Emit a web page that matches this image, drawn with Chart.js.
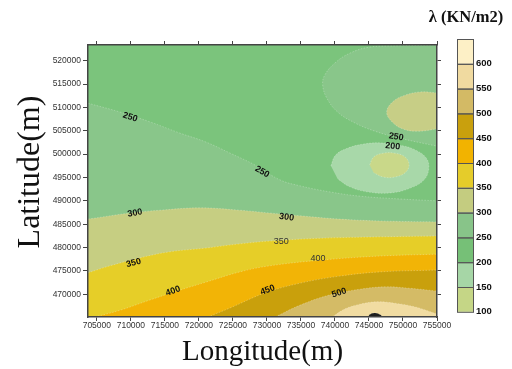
<!DOCTYPE html>
<html>
<head>
<meta charset="utf-8">
<script src="https://cdn.jsdelivr.net/npm/chart.js@4.4.1/dist/chart.umd.min.js"></script>
<style>
  body { margin: 0; background: #fff; }
  #wrap { width: 512px; height: 369px; }
</style>
</head>
<body>
<div id="wrap"><canvas id="map" width="512" height="369"></canvas></div>
<script>
// map extent (m)
const lonMin = 703700, lonMax = 755000;
const latMin = 465150, latMax = 523350;
const lonTicks = [705000, 710000, 715000, 720000, 725000, 730000, 735000, 740000, 745000, 750000, 755000];
const latTicks = [470000, 475000, 480000, 485000, 490000, 495000, 500000, 505000, 510000, 515000, 520000];

// contour lines crossing the whole map, west -> east
const c250X = [703700, 708400, 712800, 717200, 721000, 724600, 728200, 731900, 734900, 739300, 743700, 749600, 755000];
const c250Y = [510900, 509000, 506900, 504500, 502600, 500200, 497700, 494500, 493200, 491900, 491000, 490400, 490000];
const c300X = [703700, 709900, 714300, 720100, 726000, 730400, 734900, 740700, 746600, 755000];
const c300Y = [486100, 487400, 488000, 488500, 488000, 487400, 486800, 486100, 485700, 485500];
const c350X = [703700, 706900, 711300, 715700, 721000, 726000, 730400, 737800, 746600, 755000];
const c350Y = [474600, 476100, 477800, 479100, 479900, 480800, 481400, 482000, 482300, 482500];
const c400X = [704700, 708400, 712800, 717200, 721000, 726000, 730400, 737800, 746600, 755000];
const c400Y = [465150, 466600, 468800, 470900, 472600, 474800, 476100, 477300, 478200, 478600];
const c450X = [721300, 724600, 729700, 734900, 740700, 746600, 755000];
const c450Y = [465150, 467100, 470300, 472400, 473900, 474800, 475200];
const c500X = [731200, 734900, 739300, 743700, 747400, 751000, 755000];
const c500Y = [465150, 467700, 469900, 471100, 471600, 471300, 470700];
const c550X = [739600, 741500, 743700, 746200, 748800, 751800, 755000];
const c550Y = [465150, 466900, 467900, 468400, 468100, 467300, 465800];
const c600X = [744900, 745100, 745900, 746600, 747100];
const c600Y = [465150, 465700, 466000, 465700, 465150];

// closed contours in the north-east
const neOuterX = [755000, 749600, 745100, 742200, 740000, 738500, 738200, 738800, 740400, 742900, 745900, 749600, 755000];
const neOuterY = [523350, 523200, 522900, 521600, 519500, 516900, 514800, 512000, 509000, 506700, 504900, 503400, 501700];
const neInnerX = [755000, 752500, 750300, 748500, 747600, 748400, 750000, 752200, 755000];
const neInnerY = [513100, 513300, 512600, 511200, 509000, 506900, 505400, 504900, 505400];
const eOuterX = [739400, 740100, 741900, 744400, 746900, 749600, 751800, 753400, 753800, 753100, 751000, 748100, 744900, 742200, 740400];
const eOuterY = [497500, 499800, 501300, 502200, 502400, 501900, 500900, 499200, 497000, 494500, 492700, 491700, 491900, 493000, 494700];
const eInnerX = [745100, 745700, 747100, 748800, 750300, 750900, 750300, 748800, 747100, 745700];
const eInnerY = [497700, 499400, 500200, 500200, 499400, 497700, 496000, 495100, 495100, 496000];

// contour labels
const labelText = ['250', '250', '250', '200', '300', '300', '350', '350', '400', '400', '450', '500'];
const labelX = [709900, 729300, 749000, 748500, 710600, 732900, 732100, 710400, 737500, 716200, 730100, 740600];
const labelY = [507900, 496200, 503700, 501700, 487400, 486500, 481400, 476700, 477600, 470700, 470900, 470300];
const labelAngle = [18, 30, 8, 5, -10, 8, 0, -15, 0, -20, -20, -18];
const labelBold = [true, true, true, true, true, true, false, true, false, true, true, true];

// colour scale
const levelLabels = ['600', '550', '500', '450', '400', '350', '300', '250', '200', '150', '100'];
const levelColors = ['#FDF0C6', '#F0DAA0', '#D3BA65', '#C9A00D', '#F2B300', '#E5CC2A', '#C4CC80', '#88C489', '#76C077', '#A6D6A6', '#C5D686'];

const BASE_GREEN = '#7BC47C';

function pts(xs, ys) {
    return xs.map((x, i) => ({ x: x, y: ys[i] }));
}

function layer(xs, ys, color, fill) {
    return {
        data: pts(xs, ys),
        showLine: true,
        fill: fill,
        backgroundColor: color,
        borderColor: 'rgba(255,255,255,0.35)',
        borderWidth: 0.7,
        borderDash: [1.5, 1.5],
        pointRadius: 0,
        pointHoverRadius: 0,
        tension: 0.4
    };
}

// painted bottom first
const layers = [
    layer(c250X, c250Y, '#89C68A', 'start'),
    layer(c300X, c300Y, '#C6CE82', 'start'),
    layer(c350X, c350Y, '#E6CE28', 'start'),
    layer(c400X, c400Y, '#F2B406', 'start'),
    layer(c450X, c450Y, '#C9A00C', 'start'),
    layer(c500X, c500Y, '#D4BB66', 'start'),
    layer(c550X, c550Y, '#F1DCA2', 'start'),
    layer(c600X, c600Y, '#1E1E1E', 'start'),
    layer(neOuterX, neOuterY, '#89C68A', 'shape'),
    layer(neInnerX, neInnerY, '#C7CE86', 'shape'),
    layer(eOuterX, eOuterY, '#A8D8A9', 'shape'),
    layer(eInnerX, eInnerY, '#C9D889', 'shape')
];
// chart.js draws the first dataset last
const datasets = layers.slice().reverse();

// frame and tick marks go over the filled contours
const frameGrid = { drawOnChartArea: false, drawTicks: true, tickLength: 4, color: '#444', lineWidth: 1, z: 1 };
const frameBorder = { display: true, color: '#444', width: 1.5, z: 1 };
const tickFont = { family: 'Liberation Sans', size: 8.5 };

function fixedTicks(list) {
    return function (s) { s.ticks = list.map(v => ({ value: v })); };
}

const decorations = {
    id: 'decorations',
    beforeDraw(chart) {
        const ctx = chart.ctx, a = chart.chartArea;
        ctx.save();
        ctx.fillStyle = '#fff';
        ctx.fillRect(0, 0, chart.width, chart.height);
        ctx.fillStyle = BASE_GREEN;
        ctx.fillRect(a.left, a.top, a.right - a.left, a.bottom - a.top);
        ctx.restore();
    },
    afterDatasetsDraw(chart) {
        const ctx = chart.ctx, a = chart.chartArea;
        const sx = chart.scales.x, sy = chart.scales.y;
        // contour labels
        ctx.save();
        ctx.beginPath();
        ctx.rect(a.left, a.top, a.right - a.left, a.bottom - a.top);
        ctx.clip();
        ctx.textAlign = 'center';
        ctx.textBaseline = 'middle';
        labelText.forEach((t, i) => {
            ctx.save();
            ctx.translate(sx.getPixelForValue(labelX[i]), sy.getPixelForValue(labelY[i]));
            ctx.rotate(labelAngle[i] * Math.PI / 180);
            ctx.font = (labelBold[i] ? 'bold ' : '') + '9px "Liberation Sans"';
            ctx.fillStyle = labelBold[i] ? '#111' : '#333';
            ctx.fillText(t, 0, 0);
            ctx.restore();
        });
        ctx.restore();
    },
    afterDraw(chart) {
        const ctx = chart.ctx, a = chart.chartArea;
        ctx.save();
        // axis titles
        ctx.fillStyle = '#111';
        ctx.textAlign = 'center';
        ctx.textBaseline = 'middle';
        ctx.font = '29px "Liberation Serif"';
        ctx.fillText('Longitude(m)', (a.left + a.right) / 2, 352);
        ctx.save();
        ctx.font = '32px "Liberation Serif"';
        ctx.translate(31, 172);
        ctx.rotate(-Math.PI / 2);
        ctx.fillText('Latitude(m)', 0, 0);
        ctx.restore();

        // colour bar
        const barLeft = 457, barTop = 39, barW = 16, binH = 24.8;
        levelColors.forEach((c, i) => {
            ctx.fillStyle = c;
            ctx.fillRect(barLeft, barTop + i * binH, barW, binH);
        });
        ctx.strokeStyle = '#555';
        ctx.lineWidth = 1;
        levelColors.forEach((c, i) => {
            ctx.strokeRect(barLeft + 0.5, barTop + i * binH + 0.5, barW, binH);
        });
        ctx.fillStyle = '#111';
        ctx.font = 'bold 9.5px "Liberation Sans"';
        ctx.textAlign = 'left';
        levelLabels.forEach((t, i) => {
            ctx.fillText(t, barLeft + barW + 3, barTop + (i + 1) * binH);
        });
        ctx.font = 'bold 16.5px "Liberation Serif"';
        ctx.textAlign = 'center';
        ctx.fillText('\u03bb (KN/m2)', 466, 18);
        ctx.restore();
    }
};

new Chart(document.getElementById('map'), {
    type: 'scatter',
    data: { datasets: datasets },
    options: {
        responsive: false,
        animation: false,
        layout: { padding: 0 },
        plugins: {
            legend: { display: false },
            tooltip: { enabled: false }
        },
        scales: {
            x: {
                type: 'linear', position: 'bottom', min: lonMin, max: lonMax,
                afterBuildTicks: fixedTicks(lonTicks),
                ticks: { autoSkip: false, maxRotation: 0, padding: 0,
                         font: tickFont, color: '#333', callback: v => String(v) },
                grid: frameGrid, border: frameBorder,
                afterFit(s) { s.height = 52; }
            },
            x2: {
                type: 'linear', position: 'top', min: lonMin, max: lonMax,
                afterBuildTicks: fixedTicks(lonTicks),
                ticks: { display: false },
                grid: frameGrid, border: frameBorder,
                afterFit(s) { s.height = 45; }
            },
            y: {
                type: 'linear', position: 'left', min: latMin, max: latMax,
                afterBuildTicks: fixedTicks(latTicks),
                ticks: { autoSkip: false, padding: 2,
                         font: tickFont, color: '#333', callback: v => String(v) },
                grid: Object.assign({}, frameGrid, { tickLength: 5 }), border: frameBorder,
                afterFit(s) { s.width = 88; }
            },
            y2: {
                type: 'linear', position: 'right', min: latMin, max: latMax,
                afterBuildTicks: fixedTicks(latTicks),
                ticks: { display: false },
                grid: frameGrid, border: frameBorder,
                afterFit(s) { s.width = 75; }
            }
        }
    },
    plugins: [decorations]
});
</script>
</body>
</html>
